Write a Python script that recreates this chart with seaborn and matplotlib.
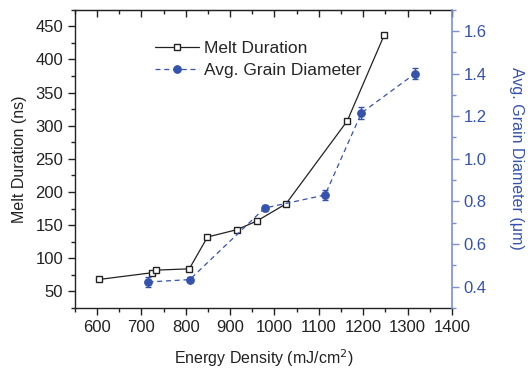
import matplotlib
matplotlib.use("Agg")
import matplotlib.pyplot as plt
import seaborn as sns
import numpy as np
import pandas as pd
from matplotlib.ticker import MultipleLocator

sns.set_style("white")
plt.rcParams['font.family'] = ['Liberation Sans', 'DejaVu Sans']

# Data
melt_energy = [605, 723, 732, 808, 849, 915, 960, 1026, 1164, 1247]
melt_duration = [68, 78, 82, 84, 132, 143, 156, 182, 307, 436]

grain_energy = [716, 809, 978, 1114, 1196, 1317]
grain_diam = [0.422, 0.433, 0.769, 0.830, 1.215, 1.400]
grain_err = [0.022, 0.012, 0.012, 0.022, 0.03, 0.027]

blue = "#3552ad"
spine_blue = "#7b8fd2"

fig = plt.figure(figsize=(5.31, 3.71), dpi=100)
ax = fig.add_axes([0.141, 0.170, 0.710, 0.804])
ax2 = ax.twinx()

df_m = pd.DataFrame({"E": melt_energy, "D": melt_duration})
df_g = pd.DataFrame({"E": grain_energy, "G": grain_diam, "err": grain_err})

sns.lineplot(data=df_m, x="E", y="D", ax=ax, color="#222222", lw=0.9,
             marker="s", markersize=4.8, markerfacecolor="white",
             markeredgecolor="#222222", markeredgewidth=1.0,
             label="Melt Duration", legend=False)

ax2.errorbar(grain_energy, grain_diam, yerr=grain_err, fmt="none",
             ecolor=blue, elinewidth=1.0, capsize=2.5, capthick=1.0)
sns.lineplot(data=df_g, x="E", y="G", ax=ax2, color=blue, lw=0.9,
             linestyle=(0, (4, 3)), marker="o", markersize=5.5,
             markerfacecolor=blue, markeredgecolor=blue,
             label="Avg. Grain Diameter", legend=False)

ax.set_xlim(550, 1400)
ax.set_ylim(25, 475)
ax2.set_ylim(0.3, 1.7)

ax.xaxis.set_major_locator(MultipleLocator(100))
ax.xaxis.set_minor_locator(MultipleLocator(50))
ax.yaxis.set_major_locator(MultipleLocator(50))
ax.yaxis.set_minor_locator(MultipleLocator(25))
ax2.yaxis.set_major_locator(MultipleLocator(0.2))
ax2.yaxis.set_minor_locator(MultipleLocator(0.1))
ax2.yaxis.set_major_formatter(matplotlib.ticker.FormatStrFormatter('%.1f'))

ax.tick_params(axis='x', which='both', direction='out', bottom=True, top=False,
               labelsize=12, colors="#222222")
ax.tick_params(axis='x', which='major', length=5, width=1)
ax.tick_params(axis='x', which='minor', length=3, width=1)
ax.tick_params(axis='y', which='both', direction='out', left=True, labelsize=12,
               colors="#222222")
ax.tick_params(axis='y', which='major', length=5, width=1)
ax.tick_params(axis='y', which='minor', length=3, width=1)

ax2.tick_params(axis='y', which='both', direction='out', right=True, labelsize=12,
                colors=spine_blue, labelcolor=blue)
ax2.tick_params(axis='y', which='major', length=5, width=1)
ax2.tick_params(axis='y', which='minor', length=3, width=1)

# top ticks inward via secondary axis
axt = ax.secondary_xaxis('top')
axt.xaxis.set_major_locator(MultipleLocator(100))
axt.xaxis.set_minor_locator(MultipleLocator(50))
axt.tick_params(axis='x', which='both', direction='in', labeltop=False, colors="#222222")
axt.tick_params(axis='x', which='major', length=5, width=1)
axt.tick_params(axis='x', which='minor', length=3, width=1)

for s in ["left", "bottom", "top"]:
    ax.spines[s].set_color("#222222")
    ax.spines[s].set_linewidth(1.0)
ax.spines["right"].set_visible(False)
for s in ["left", "bottom", "top"]:
    ax2.spines[s].set_visible(False)
ax2.spines["right"].set_color(spine_blue)
ax2.spines["right"].set_linewidth(1.2)

ax.set_xlabel("Energy Density (mJ/cm$^2$)", fontsize=11.5, color="#222222", labelpad=9)
ax.set_ylabel("Melt Duration (ns)", fontsize=11.5, color="#222222", labelpad=6)
ax2.set_ylabel("Avg. Grain Diameter (\u03bcm)", fontsize=11.5, color=blue,
               rotation=270, labelpad=27)

h1, l1 = ax.get_legend_handles_labels()
h2, l2 = ax2.get_legend_handles_labels()
leg = ax.legend(h1 + h2, l1 + l2, loc="upper left", bbox_to_anchor=(0.172, 0.947),
                frameon=False, fontsize=12.5, handlelength=2.5, handletextpad=0.3,
                labelspacing=0.4)

fig.savefig("out.png", dpi=100)
